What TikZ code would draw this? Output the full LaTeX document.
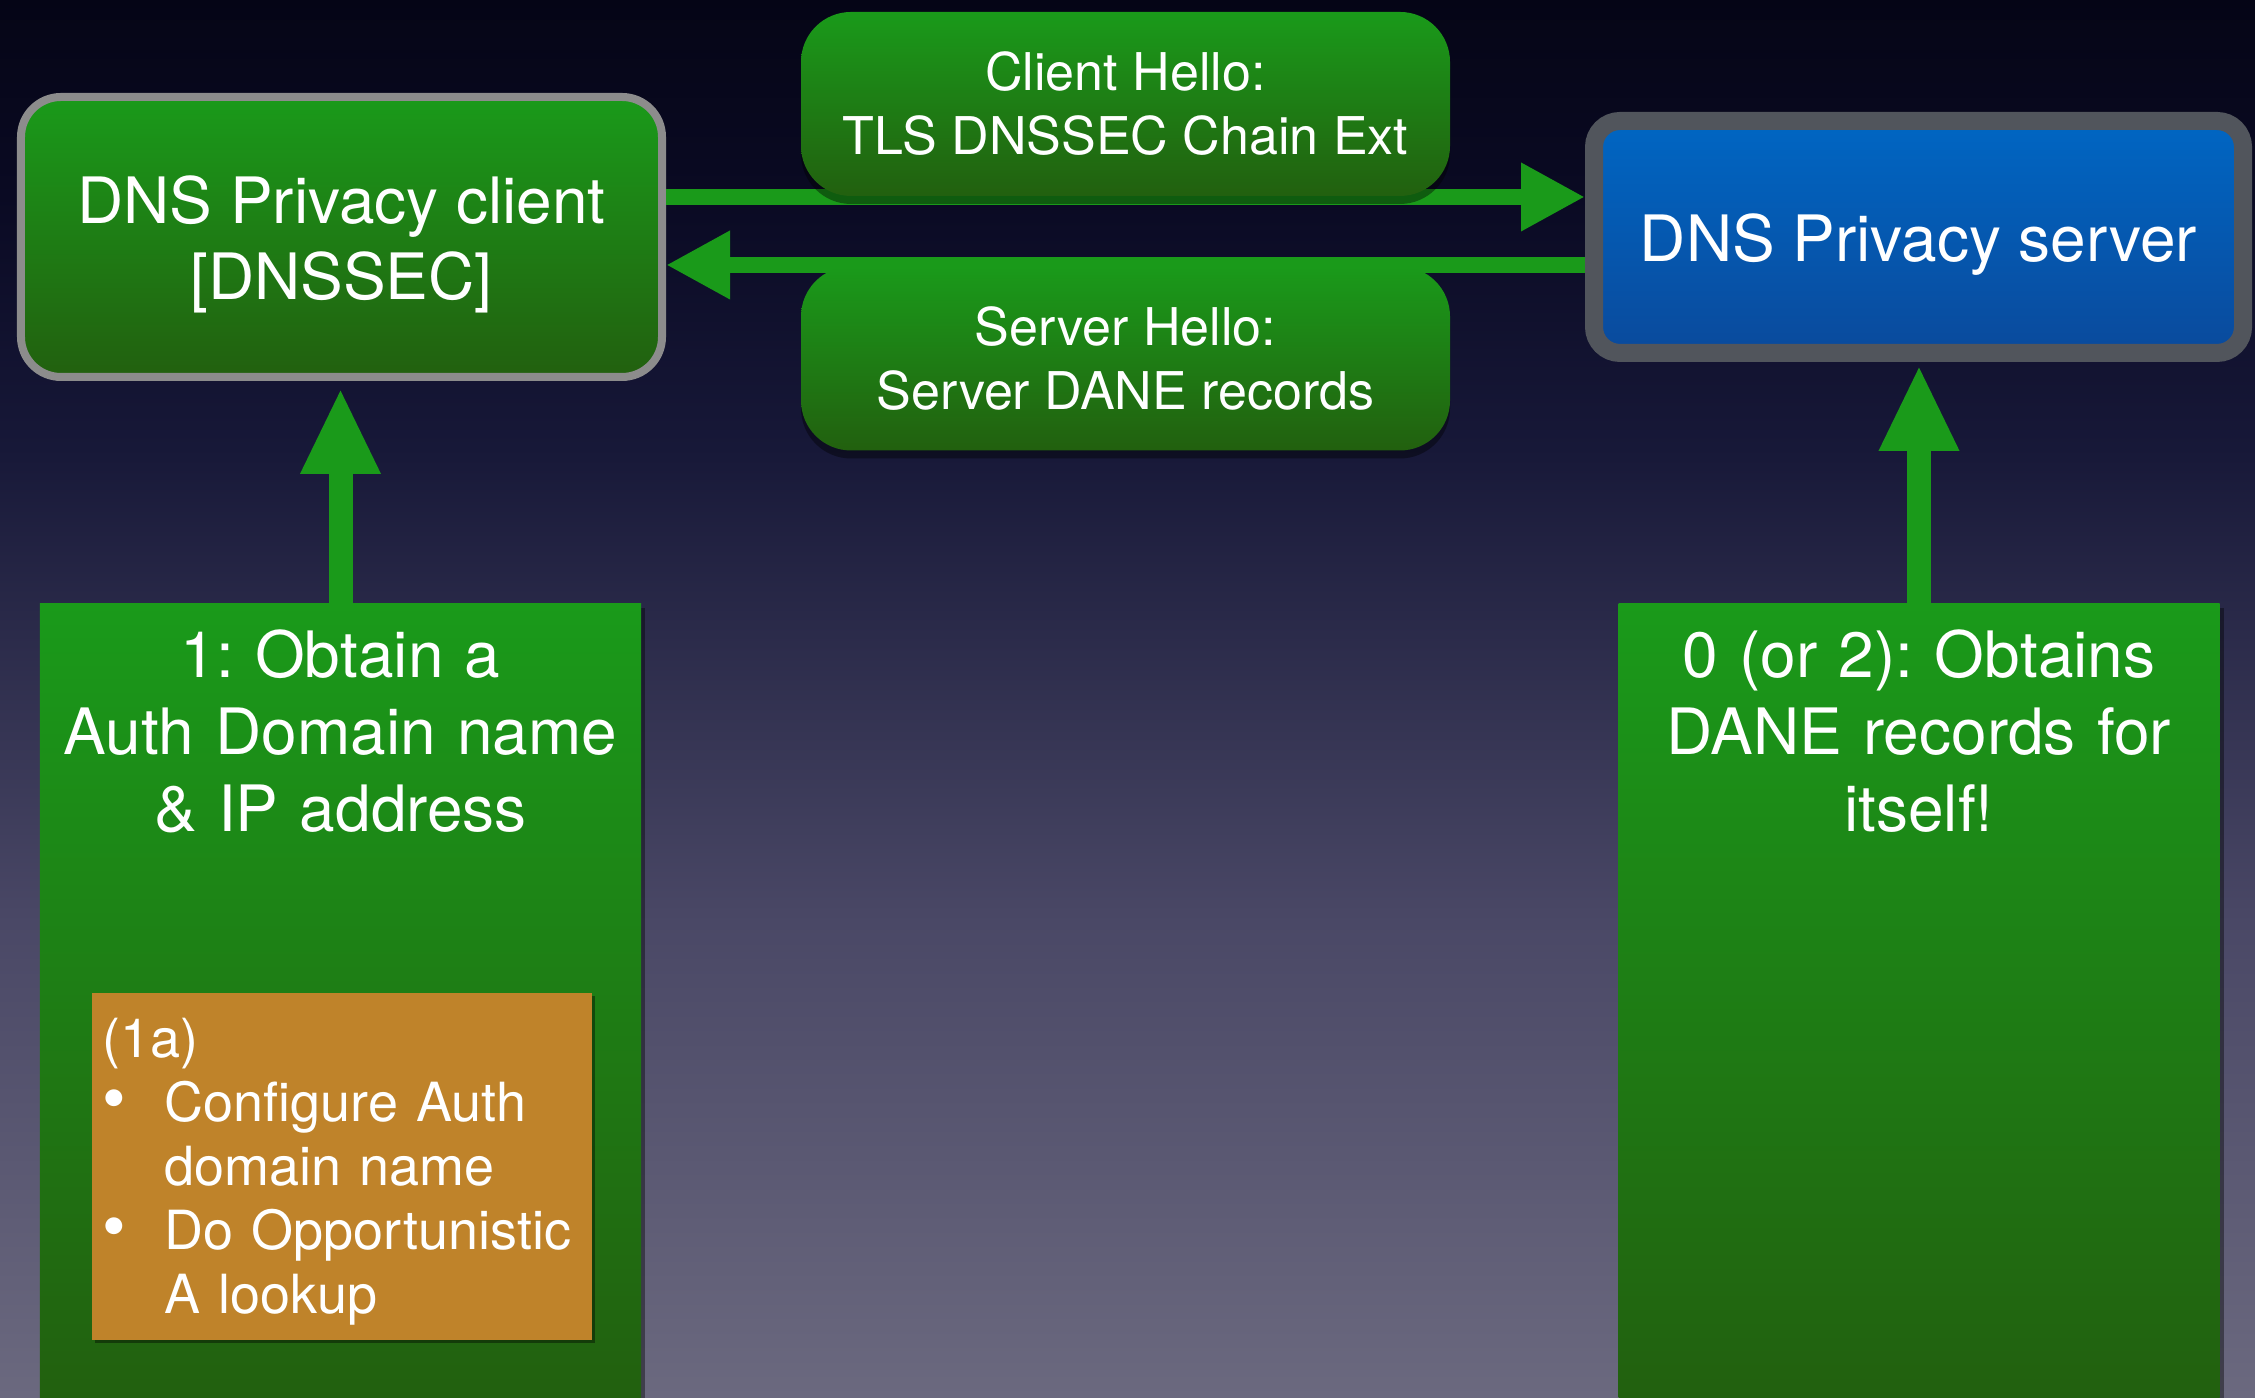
\documentclass[tikz,border=0pt]{standalone}
\usepackage{fontspec}
\setmainfont{TeX Gyre Heros}
\usepackage{tikz}
\usetikzlibrary{arrows.meta,shadows,positioning}
\frenchspacing

\definecolor{bgtop}{RGB}{5,5,22}
\definecolor{bgupper}{RGB}{10,10,35}
\definecolor{bgmid}{RGB}{23,24,56}
\definecolor{bglow}{RGB}{74,72,102}
\definecolor{bgbottom}{RGB}{107,105,127}
\definecolor{boxgreen}{RGB}{26,154,26}
\definecolor{boxgreendark}{RGB}{34,96,15}
\definecolor{arrowgreen}{RGB}{26,154,26}
\definecolor{servblue}{RGB}{0,102,195}
\definecolor{servbluedark}{RGB}{10,74,156}
\definecolor{servrim}{RGB}{81,85,92}
\definecolor{clientrim}{RGB}{140,140,140}
\definecolor{lookuporange}{RGB}{191,131,42}

\pgfdeclareverticalshading{slidebg}{100bp}{color(0bp)=(bgbottom); color(25bp)=(bgbottom);
  color(42bp)=(bglow); color(59bp)=(bgmid); color(68bp)=(bgupper); color(75bp)=(bgtop); color(100bp)=(bgtop)}

\tikzset{
  greenfill/.style={top color=boxgreen, bottom color=boxgreendark},
  bigtext/.style={text=white, align=center, font=\fontsize{18.2pt}{21.6pt}\selectfont},
  clientbox/.style={bigtext, greenfill, draw=clientrim, line width=0.08cm, rounded corners=0.4cm,
    minimum width=6.41cm, minimum height=2.80cm, text height=1.39cm},
  serverbox/.style={bigtext, top color=servblue, bottom color=servbluedark, draw=servrim,
    line width=0.18cm, rounded corners=0.26cm, minimum width=6.49cm, minimum height=2.32cm,
    text height=0.60cm, text depth=0.10cm},
  hellobox/.style={greenfill, text=white, align=center, font=\fontsize{14.8pt}{18.2pt}\selectfont,
    rounded corners=0.5cm, minimum width=6.49cm, minimum height=1.84cm,
    drop shadow={shadow xshift=0pt, shadow yshift=-0.08cm, opacity=0.4, fill=black}},
  columnbox/.style={greenfill, text=white, align=center, font=\fontsize{18.2pt}{21.9pt}\selectfont,
    anchor=north, minimum width=6.01cm, text width=5.81cm, inner xsep=0.1cm, inner ysep=0pt,
    text height=0.74cm, text depth=7.21cm,
    drop shadow={shadow xshift=0.04cm, shadow yshift=-0.04cm, opacity=0.4, fill=black}},
  lookupbox/.style={fill=lookuporange, text=white, align=left, font=\fontsize{15.36pt}{18.2pt}\selectfont,
    anchor=north west, minimum width=5.0cm, text width=4.78cm, inner xsep=0.11cm, inner ysep=0pt,
    text height=0.65cm, text depth=2.82cm,
    drop shadow={shadow xshift=0.03cm, shadow yshift=-0.03cm, opacity=0.4, fill=black}},
  flowarrow/.style={draw=arrowgreen, line width=0.16cm, -{Triangle[length=0.64cm,width=0.64cm]}},
  risearrow/.style={draw=arrowgreen, line width=0.24cm, -{Triangle[length=0.86cm,width=0.74cm]}}
}

\newcommand{\lookupitem}{\makebox[0.62cm][l]{\scalebox{1.25}{\textbullet}}}

\begin{document}
\begin{tikzpicture}
            \useasboundingbox (0,0) rectangle (22.55,13.98);
            \shade[shading=slidebg] (0,0) rectangle (22.55,13.98);

            \node[clientbox] (client) at (3.415,11.61) {DNS Privacy client\\{[DNSSEC]}};
            \node[serverbox] (server) at (19.185,11.61) {DNS Privacy server};

            \node[columnbox] (obtain) at (3.405,7.95) {1: Obtain a\\Auth Domain name\\\& IP address};
            \node[columnbox] (selfdane) at (19.19,7.95) {0 (or 2): Obtains\\DANE records for\\itself!};
            \node[lookupbox] (lookup) at (0.91,4.06) {(1a)\\
                \lookupitem Configure Auth\\
                \hspace*{0.62cm}domain name\\
                \lookupitem Do Opportunistic\\
                \hspace*{0.62cm}A lookup};

            \draw[flowarrow] ([yshift=0.40cm]client.east) -- ([yshift=0.40cm]server.west);
            \draw[flowarrow] ([yshift=-0.28cm]server.west) -- ([yshift=-0.28cm]client.east);
            \draw[risearrow, shorten >=0.07cm] (obtain.north) -- (obtain.north |- client.south);
            \draw[risearrow, shorten >=0.03cm] (selfdane.north) -- (selfdane.north |- server.south);

            \node[hellobox] (clienthello) at (11.255,12.94) {Client Hello:\\TLS DNSSEC Chain Ext};
            \node[hellobox] (serverhello) at (11.255,10.395) {Server Hello:\\Server DANE records};

        \end{tikzpicture}
\end{document}
